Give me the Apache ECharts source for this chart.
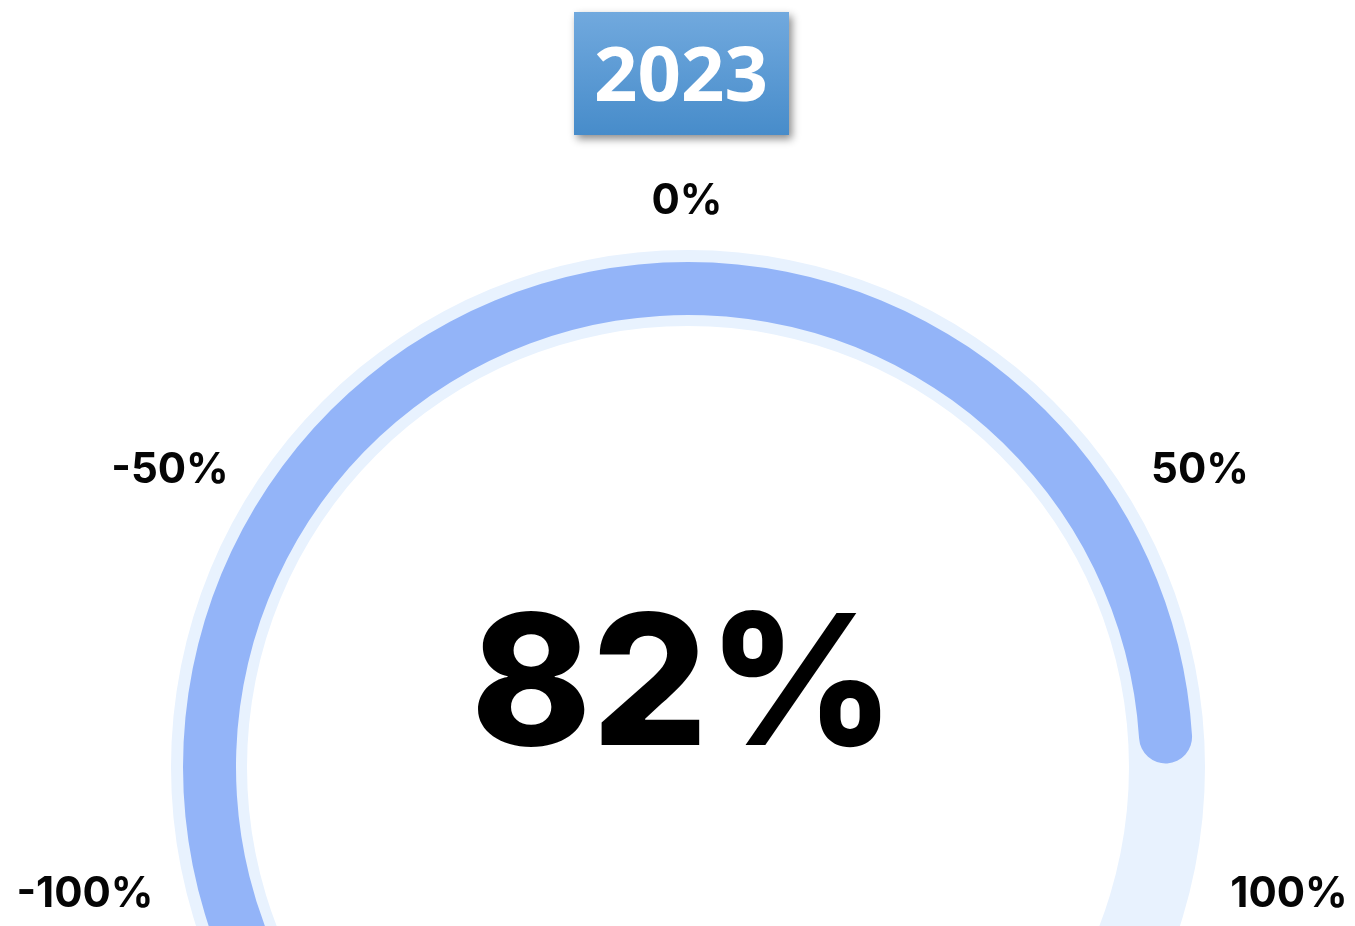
<!DOCTYPE html>
<html>
<head>
<meta charset="utf-8">
<script src="https://cdn.jsdelivr.net/npm/echarts@6/dist/echarts.min.js"></script>
<style>
html,body{margin:0;padding:0;background:#fff;}
#chart{width:1355px;height:926px;}
</style>
</head>
<body>
<div id="chart"></div>
<script>
// ---- data ----
const yearLabel = '2023';
const gaugeValue = [82];          // percent shown in the gauge
const gaugeMin = 0;
const gaugeMax = 100;
const tickLabels = ['-100%', '-50%', '0%', '50%', '100%'];

// ---- layout (positions of the tick-label texts) ----
const tickLabelPos = [[85, 894], [170, 470], [687, 201], [1200, 470], [1289, 894]];
const CX = 688, CY = 767;

const chart = echarts.init(document.getElementById('chart'), null, {renderer: 'canvas'});

const graphics = [
  {
    type: 'rect',
    shape: {x: 574, y: 12, width: 215, height: 123},
    style: {
      fill: new echarts.graphic.LinearGradient(0, 0, 0, 1, [
        {offset: 0, color: '#71a9de'},
        {offset: 1, color: '#478cca'}
      ]),
      shadowBlur: 8,
      shadowOffsetX: 3,
      shadowOffsetY: 4,
      shadowColor: 'rgba(0,0,0,0.45)'
    },
    z: 10
  },
  {
    type: 'text',
    x: 681, y: 79,
    style: {
      text: yearLabel,
      fill: '#ffffff',
      font: 'bold 76px "Open Sans", sans-serif',
      align: 'center',
      verticalAlign: 'middle'
    },
    z: 11
  }
];
tickLabels.forEach((t, i) => {
  graphics.push({
    type: 'text',
    x: tickLabelPos[i][0], y: tickLabelPos[i][1],
    style: {
      text: t,
      fill: '#050505',
      font: 'bold 42px Inter, sans-serif',
      align: 'center',
      verticalAlign: 'middle'
    },
    z: 10
  });
});

const option = {
  animation: false,
  backgroundColor: '#ffffff',
  graphic: graphics,
  series: [
    {
      type: 'gauge',
      center: [CX, CY],
      radius: 517,
      startAngle: 225,
      endAngle: -45,
      min: gaugeMin,
      max: gaugeMax,
      axisLine: {lineStyle: {width: 76, color: [[1, '#e8f2fe']]}},
      pointer: {show: false},
      axisTick: {show: false},
      splitLine: {show: false},
      axisLabel: {show: false},
      detail: {show: false},
      title: {show: false},
      data: []
    },
    {
      type: 'gauge',
      center: [CX, CY],
      radius: 505,
      startAngle: 225,
      endAngle: -45,
      min: gaugeMin,
      max: gaugeMax,
      progress: {show: true, width: 53, roundCap: true, itemStyle: {color: '#93b4f8'}},
      axisLine: {show: false},
      pointer: {show: false},
      axisTick: {show: false},
      splitLine: {show: false},
      axisLabel: {show: false},
      title: {show: false},
      detail: {
        offsetCenter: [-5, -77],
        formatter: '{value}%',
        fontSize: 182,
        fontWeight: 800,
        fontFamily: 'Inter',
        color: '#000000'
      },
      data: [{value: gaugeValue[0]}]
    }
  ]
};
chart.setOption(option);
</script>
</body>
</html>
